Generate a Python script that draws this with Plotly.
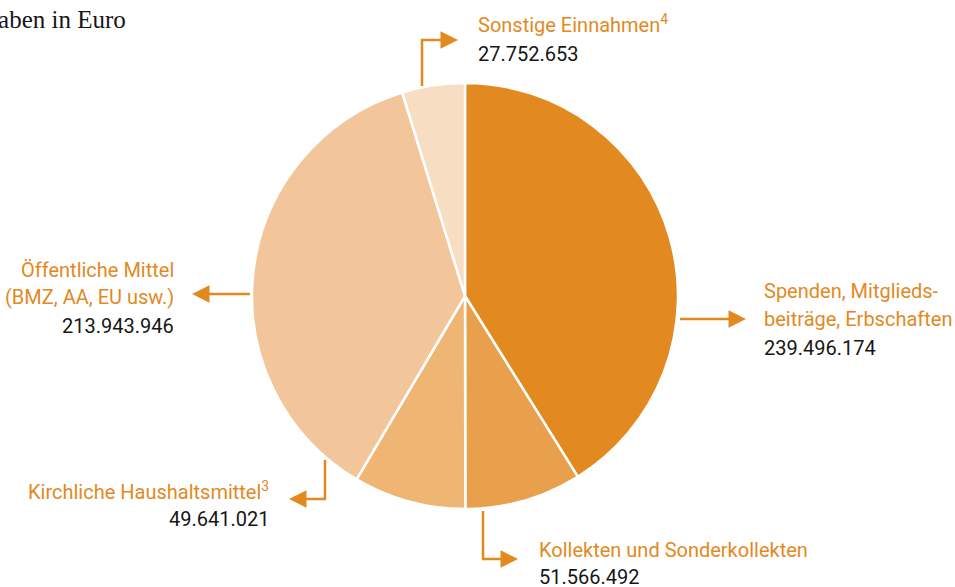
import plotly.graph_objects as go

W, H = 955, 587

categories = [
    "Spenden, Mitglieds-<br>beiträge, Erbschaften",
    "Kollekten und Sonderkollekten",
    "Kirchliche Haushaltsmittel<sup>3</sup>",
    "Öffentliche Mittel<br>(BMZ, AA, EU usw.)",
    "Sonstige Einnahmen<sup>4</sup>",
]
values = [239496174, 51566492, 49641021, 213943946, 27752653]
value_labels = ["239.496.174", "51.566.492", "49.641.021", "213.943.946", "27.752.653"]
colors = ["#E2891F", "#E9A04C", "#EFB573", "#F2C69A", "#F7DEC3"]

ORANGE = "#E2891F"
DARK = "#161616"
FONT = "Roboto, Liberation Sans, sans-serif"
SERIF = "Liberation Serif, DejaVu Serif, serif"
FS = 20


def px(x):
    return x / W


def py(y):
    return 1 - y / H


cx, cy, r = 465, 296, 213

fig = go.Figure(go.Pie(
    labels=categories,
    values=values,
    sort=False,
    direction="clockwise",
    rotation=0,
    marker=dict(colors=colors, line=dict(color="white", width=2.5)),
    textinfo="none",
    hoverinfo="skip",
    showlegend=False,
    domain=dict(x=[px(cx - r), px(cx + r)], y=[py(cy + r), py(cy - r)]),
))

shapes = []
annotations = []


def seg(x0, y0, x1, y1):
    shapes.append(dict(type="line", xref="paper", yref="paper",
                       x0=px(x0), y0=py(y0), x1=px(x1), y1=py(y1),
                       line=dict(color=ORANGE, width=2.5)))


def head(xt, yt, dx):
    annotations.append(dict(xref="paper", yref="paper", x=px(xt), y=py(yt),
                            ax=-dx * 14, ay=0, axref="pixel", ayref="pixel",
                            text="", showarrow=True, arrowhead=2, arrowsize=1.4,
                            arrowwidth=2.5, arrowcolor=ORANGE, standoff=0))


def text(x, y, t, color, anchor, size=FS):
    annotations.append(dict(xref="paper", yref="paper", x=px(x), y=py(y),
                            text=t, showarrow=False, xanchor=anchor, yanchor="middle",
                            align=anchor, font=dict(family=FONT, size=size, color=color)))


def block(x, ys, idx, anchor):
    lines = categories[idx].split("<br>")
    for t, y in zip(lines, ys[:-1]):
        text(x, y, t, ORANGE, anchor)
    text(x, ys[-1], value_labels[idx], DARK, anchor)


# Sonstige Einnahmen
seg(422, 86, 422, 40)
seg(421, 40, 446, 40)
head(458, 40, 1)
block(476, [24, 54], 4, "left")

# Öffentliche Mittel
seg(250, 294, 202, 294)
head(192, 294, -1)
block(176, [270, 297, 326], 3, "right")

# Spenden
seg(680, 319, 735, 319)
head(746, 319, 1)
block(762, [291, 319, 348], 0, "left")

# Kirchliche Haushaltsmittel
seg(325, 460, 325, 499)
seg(326, 499, 300, 499)
head(289, 499, -1)
block(271, [491, 519], 2, "right")

# Kollekten
seg(483, 511, 483, 559)
seg(482, 559, 507, 559)
head(518, 559, 1)
block(537, [550, 577], 1, "left")

# Header (partly cut at the left edge)
annotations.append(dict(xref="paper", yref="paper", x=px(128), y=py(19),
                        text="Angaben in Euro", showarrow=False, xanchor="right",
                        yanchor="middle", font=dict(family=SERIF, size=25, color=DARK)))

fig.update_layout(
    width=W, height=H,
    margin=dict(l=0, r=0, t=0, b=0),
    paper_bgcolor="white", plot_bgcolor="white",
    shapes=shapes, annotations=annotations,
)

fig.write_html("out.html", config={"displayModeBar": False},
               post_script="document.body.style.margin='0';")
